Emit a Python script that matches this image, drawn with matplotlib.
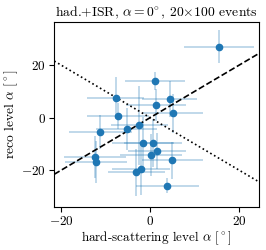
import matplotlib
matplotlib.use("Agg")
import matplotlib.pyplot as plt
import numpy as np

plt.rcParams['font.family'] = 'serif'
plt.rcParams['font.serif'] = ['cmr10', 'DejaVu Serif']
plt.rcParams['mathtext.fontset'] = 'cm'
plt.rcParams['axes.formatter.use_mathtext'] = True
plt.rcParams['font.size'] = 9

# hard-scattering level alpha (deg)
x_true = [15.6, 1.1, -7.8, 4.4, 1.3, 5.1, -7.3, -11.2, -5.3, -2.4,
          -1.6, 0.7, 0.2, 1.5, -12.5, -12.2, 5.0, -3.1, -2.0, 3.9]
# reco level alpha (deg)
y_reco = [27.1, 14.0, 7.4, 7.1, 4.8, 1.7, 0.5, -5.5, -4.2, -2.9,
          -9.8, -9.7, -14.1, -12.7, -15.0, -17.0, -16.3, -20.9, -19.6, -25.9]
x_err = [7.9, 6.8, 6.4, 6.2, 6.8, 6.8, 7.0, 7.0, 6.8, 6.5,
         7.0, 6.5, 7.0, 6.5, 7.0, 7.0, 6.8, 6.5, 6.5, 7.0]
y_err = [6.4, 3.5, 8.0, 7.0, 6.0, 7.5, 5.0, 6.5, 8.0, 15.0,
         10.0, 9.0, 8.0, 7.0, 8.0, 8.0, 7.0, 9.0, 10.0, 3.0]

xticks = [-20, 0, 20]
yticks = [-20, 0, 20]
xlim = (-21.6, 24.6)
ylim = (-34.0, 36.6)

fig = plt.figure(figsize=(2.66, 2.5), dpi=100)
ax = fig.add_axes([0.204, 0.173, 0.771, 0.740])

ax.errorbar(x_true, y_reco, xerr=x_err, yerr=y_err, fmt='none',
            ecolor='#1f77b4', alpha=0.3, elinewidth=1.3, zorder=1)
ax.plot(x_true, y_reco, 'o', color='#1f77b4', ms=4.5, zorder=3)

line = np.array(xlim)
ax.plot(line, line, '--', color='black', lw=1.2, zorder=2)
ax.plot(line, -line, ':', color='black', lw=1.2, zorder=2)

ax.set_xlim(*xlim)
ax.set_ylim(*ylim)
ax.set_xticks(xticks)
ax.set_yticks(yticks)
ax.tick_params(labelsize=9.5, pad=2.5)
xl = ax.set_xlabel(r'hard-scattering level $\alpha$ $[^\circ]$', fontsize=9, labelpad=1)
yl = ax.set_ylabel(r'reco level $\alpha$ $[^\circ]$', fontsize=9, labelpad=1)
tt = ax.set_title(r'had.+ISR, $\alpha=0\!^\circ$, $20{\times}100$ events', fontsize=9, pad=4)

# fit text sizes to the reference's text widths (pixels)
def fit(txt, target, vertical=False):
    for _ in range(3):
        fig.canvas.draw()
        bb = txt.get_window_extent(fig.canvas.get_renderer())
        w = bb.height if vertical else bb.width
        txt.set_fontsize(txt.get_fontsize() * target / w)

fit(tt, 203)
fit(xl, 151)
fit(yl, 90, vertical=True)

fig.savefig('out.png', dpi=100)
